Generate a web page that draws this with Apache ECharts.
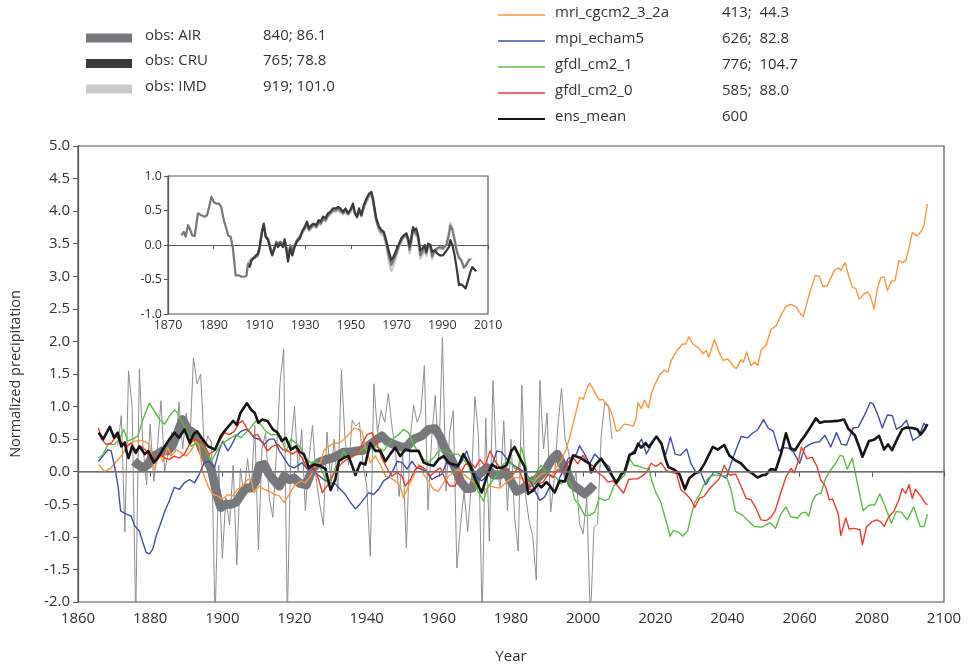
<!DOCTYPE html>
<html>
<head>
<meta charset="utf-8">
<script src="https://cdn.jsdelivr.net/npm/echarts@6/dist/echarts.min.js"></script>
<style>html,body{margin:0;padding:0;background:#fff}#c{width:970px;height:669px}</style>
</head>
<body>
<div id="c"></div>
<script>
// ---- legend texts ----
const obsNames = ['obs: AIR', 'obs: CRU', 'obs: IMD'];
const obsStats = ['840; 86.1', '765; 78.8', '919; 101.0'];
const modelNames = ['mri_cgcm2_3_2a', 'mpi_echam5', 'gfdl_cm2_1', 'gfdl_cm2_0', 'ens_mean'];
const modelStats = ['413;  44.3', '626;  82.8', '776;  104.7', '585;  88.0', '600'];

// ---- main axis ticks ----
const xTicks = [1860, 2100, 20];
const yTicks = [-2, 5, 0.5];
const insetXTicks = [1870, 2010, 20];
const insetYTicks = [-1, 1, 0.5];

// ---- annual observed (thin grey), from 1871 ----
const annualStart = 1871;
const annualValues = [0.4,0.86,-0.92,1.55,1.0,-2.3,1.58,0.4,-0.2,0.73,-0.15,0.35,1.09,0.0,0.3,0.6,0.3,1.07,0.35,0.9,
0.45,1.75,1.35,1.5,0.35,0.55,0.45,-2.3,0.1,-1.33,-0.4,-0.82,0.1,-1.43,0.05,-0.36,0.2,-0.3,0.71,-1.2,
0.35,0.6,-0.4,-0.7,0.3,1.37,1.88,-2.3,0.4,1.0,0.0,0.65,-0.6,0.2,0.71,-0.1,-0.5,-0.82,0.61,-0.1,
0.5,-0.3,1.56,0.5,0.1,0.79,0.7,0.76,0.1,-0.2,-1.3,1.35,0.6,0.94,0.76,1.2,0.7,0.3,-0.38,0.28,
-1.17,0.46,1.02,0.76,0.9,1.63,-0.59,0.5,1.17,0.2,2.06,-0.3,0.61,0.94,-1.48,-0.82,-0.3,-0.92,-0.2,1.15,
0.54,-2.3,0.82,-1.07,1.4,0.1,-0.25,0.78,-0.6,0.5,-0.7,-1.22,1.33,-0.35,-0.75,-0.98,-1.66,1.4,0.35,0.9,
-0.62,-0.1,0.71,1.28,0.5,0.3,-0.3,0.0,-0.8,-0.95,-0.4,-2.3,-0.85,-0.8,0.56,1.07,1.02,0.5];

// ---- obs: AIR smoothed (thick grey, main panel) ----
const airMain = [[1875.5,0.16],[1876.6,0.11],[1878,0.06],[1879.4,0.11],[1880.7,0.24],[1882.1,0.27],[1883.5,0.32],[1884.9,0.32],[1886.3,0.42],[1887.6,0.6],[1889,0.8],[1890.4,0.65],[1891.8,0.6],[1893.2,0.5],[1894.6,0.32],[1896,0.14],[1896.9,0.04],[1897.8,-0.17],[1898.7,-0.4],[1899.6,-0.55],[1901,-0.5],[1902.4,-0.5],[1903.8,-0.47],[1905.2,-0.35],[1906.5,-0.25],[1907.9,-0.25],[1909.3,-0.14],[1910.2,0.09],[1911.6,0.11],[1913,-0.04],[1914.4,-0.14],[1915.8,-0.22],[1917.1,-0.07],[1918.5,-0.12],[1919.9,-0.1],[1921.5,-0.18],[1923.3,-0.2],[1925,0.05],[1927,0.15],[1929,0.19],[1931,0.22],[1933.6,0.3],[1935.5,0.3],[1937.3,0.32],[1939,0.33],[1941,0.42],[1942.5,0.48],[1944.2,0.55],[1945.6,0.47],[1947.5,0.42],[1949.5,0.38],[1951,0.38],[1953,0.5],[1955.3,0.55],[1957.1,0.65],[1959,0.66],[1960.4,0.53],[1961.8,0.34],[1963.2,0.22],[1964.6,0.05],[1966,-0.15],[1967.7,-0.26],[1969.3,-0.25],[1970.5,-0.08],[1971.9,0.0],[1973.3,0.06],[1975.1,-0.05],[1977,-0.05],[1978.5,0.0],[1980,-0.15],[1981.6,-0.3],[1983.5,-0.25],[1985.5,-0.15],[1987,-0.12],[1989.5,0.02],[1991.2,0.18],[1992.8,0.27],[1994.4,0.09],[1995.5,0.0],[1997,-0.2],[1998.6,-0.26],[2000.4,-0.34],[2001.8,-0.27],[2003,-0.2]];

// ---- models ----
const mri = [[1865.7,0.11],[1867.4,0.0],[1869.2,0.06],[1870.6,0.16],[1872,0.24],[1873.4,0.37],[1874.7,0.44],[1875.7,0.47],[1877,0.48],[1878.4,0.47],[1879.8,0.42],[1881.2,0.04],[1882.6,0.27],[1883.5,0.16],[1884.9,0.37],[1885.8,0.24],[1887.2,0.34],[1888.6,0.29],[1890,0.24],[1891.3,0.32],[1892.7,0.47],[1893.6,0.39],[1894.6,-0.01],[1896,-0.22],[1897.3,-0.35],[1898.7,-0.37],[1900.1,-0.42],[1901.5,-0.35],[1902.9,-0.37],[1904.2,-0.27],[1905.6,-0.22],[1907,-0.12],[1907.9,-0.12],[1908.8,-0.32],[1910.2,-0.22],[1911.6,-0.27],[1913,-0.3],[1914.4,-0.35],[1915.8,-0.37],[1917.1,-0.47],[1918.5,-0.35],[1919.9,-0.22],[1921.7,-0.14],[1923,-0.17],[1924.4,-0.07],[1925.8,0.09],[1927.2,0.14],[1928.1,0.32],[1929.5,0.39],[1930.9,0.44],[1932.3,0.44],[1933.6,0.49],[1935,0.57],[1936.4,0.67],[1937.8,0.65],[1938.7,0.62],[1939.6,0.39],[1941,0.14],[1942.4,0.24],[1943.8,0.11],[1945.2,-0.07],[1946.5,-0.09],[1947.9,-0.14],[1949.3,-0.22],[1950.2,-0.4],[1951.6,-0.22],[1953,-0.07],[1954.4,0.11],[1955.8,-0.04],[1957.1,-0.14],[1958.5,-0.27],[1959.9,-0.3],[1961.3,-0.17],[1962.7,-0.07],[1964.1,-0.01],[1965.4,0.04],[1966.8,-0.04],[1968.7,-0.12],[1970.1,-0.17],[1971.4,-0.27],[1972.8,-0.27],[1974.2,-0.22],[1975.6,-0.24],[1977,-0.25],[1978.7,-0.16],[1980.6,-0.09],[1982.4,-0.09],[1984.3,-0.14],[1985.7,-0.21],[1987,-0.11],[1988.4,-0.04],[1989.8,-0.01],[1991.2,-0.06],[1992.6,0.07],[1993.9,0.17],[1995.3,0.35],[1996.3,0.53],[1997.2,0.73],[1998.3,0.98],[1999,1.14],[2000,1.11],[2000.9,1.26],[2001.8,1.36],[2002.7,1.28],[2003.6,1.18],[2004.5,1.1],[2005.5,1.11],[2006.4,1.03],[2007.3,0.98],[2008.2,0.85],[2009.2,0.62],[2010.1,0.64],[2011.3,0.73],[2012.6,0.72],[2013.8,0.7],[2014.6,0.8],[2015.2,1.06],[2016.1,0.97],[2017,1.1],[2018.1,0.98],[2018.9,1.2],[2019.8,1.33],[2021.1,1.48],[2022.5,1.56],[2023.5,1.53],[2024.4,1.71],[2026,1.86],[2027.5,1.96],[2028.4,1.96],[2029.3,2.07],[2030.4,1.96],[2032.2,1.89],[2033.2,1.81],[2034.1,1.86],[2034.8,1.76],[2036.4,2.03],[2037.6,1.84],[2038.7,1.71],[2040.1,1.73],[2041.5,1.63],[2042.4,1.58],[2043.8,1.72],[2044.4,1.68],[2045.3,1.84],[2046.5,1.63],[2047.5,1.68],[2048.4,1.63],[2049.3,1.87],[2050.7,1.94],[2052.1,2.19],[2053.5,2.24],[2054.8,2.4],[2056.2,2.54],[2057.6,2.57],[2059,2.53],[2059.9,2.45],[2061,2.38],[2062.7,2.73],[2064.3,3.01],[2065.4,3.0],[2066.5,2.84],[2067.7,2.86],[2069.6,3.09],[2070.8,3.13],[2071.4,3.09],[2072.6,3.21],[2073.7,2.98],[2074.6,2.83],[2075.6,2.81],[2076.5,2.65],[2077.9,2.73],[2078.8,2.76],[2079.7,2.68],[2080.6,2.5],[2081.6,2.83],[2082.5,2.98],[2083.4,2.99],[2084.3,2.78],[2085.5,2.93],[2086.4,2.93],[2087.5,3.24],[2088.5,3.21],[2089.4,3.24],[2090.3,3.44],[2091.2,3.67],[2092.6,3.62],[2093.8,3.7],[2094.5,3.8],[2095.4,4.11]];

const mpi = [[1865.7,0.16],[1866.9,0.24],[1868.3,0.34],[1869.2,0.32],[1870.1,0.09],[1871.1,-0.22],[1871.8,-0.6],[1873.4,-0.65],[1874.7,-0.68],[1875.7,-0.83],[1877,-0.91],[1878,-1.09],[1878.9,-1.24],[1879.8,-1.26],[1880.7,-1.19],[1881.7,-0.98],[1883,-0.78],[1884.1,-0.6],[1885.3,-0.45],[1886.7,-0.24],[1888.1,-0.27],[1889.5,-0.17],[1890.9,-0.12],[1892.3,-0.17],[1893.6,-0.04],[1895,0.14],[1896.4,0.16],[1897.8,0.06],[1899.2,0.34],[1900.1,0.47],[1901.5,0.32],[1902.4,0.39],[1903.8,0.55],[1905.2,0.62],[1906.5,0.65],[1907.5,0.62],[1908.8,0.52],[1910.2,0.5],[1911.6,0.42],[1913,0.5],[1914.4,0.5],[1915.8,0.32],[1917.1,0.21],[1918.5,0.09],[1919.9,0.06],[1920.8,0.09],[1922.1,0.14],[1923.5,0.04],[1924.9,0.06],[1926.3,-0.04],[1928.1,-0.12],[1930,-0.17],[1931.3,-0.19],[1932.7,-0.27],[1934.1,-0.35],[1935.5,-0.47],[1936.9,-0.57],[1937.8,-0.52],[1939.2,-0.42],[1940.6,-0.32],[1941.9,-0.35],[1943.3,-0.27],[1944.7,-0.14],[1946.1,-0.09],[1947.5,0.04],[1948.4,0.16],[1949.8,0.14],[1951.2,0.04],[1952.5,0.16],[1953.9,0.06],[1955.3,0.04],[1956.7,-0.01],[1958.1,-0.12],[1959.5,-0.07],[1960.8,-0.04],[1962.2,0.14],[1963.6,0.09],[1965,0.06],[1966.4,0.16],[1967.7,0.32],[1969.1,0.09],[1970.5,-0.09],[1971.9,-0.14],[1973.3,-0.07],[1974.7,0.09],[1976.1,0.32],[1977.4,0.3],[1978.8,0.2],[1979.7,0.14],[1981,0.09],[1982.4,0.04],[1983.8,-0.01],[1985.2,-0.11],[1986.6,-0.29],[1988,-0.44],[1989.3,-0.39],[1990.7,-0.24],[1992.1,-0.32],[1993.5,-0.09],[1994.9,0.07],[1995.8,0.2],[1996.7,0.22],[1998.1,0.27],[1999,0.4],[2000.4,0.27],[2001.8,0.12],[2003.2,0.27],[2004.5,0.2],[2005.9,0.14],[2007.3,0.07],[2008.7,-0.15],[2010.1,-0.11],[2011.5,0.02],[2012.6,0.24],[2014.2,0.33],[2015.4,0.43],[2016.2,0.5],[2017.5,0.27],[2018.8,0.4],[2020.2,0.54],[2021.6,0.45],[2022.8,0.25],[2024.2,0.53],[2025.5,0.27],[2026.9,0.25],[2028.7,0.35],[2029.9,0.12],[2031.3,-0.01],[2032.5,0.0],[2034,-0.2],[2035,-0.1],[2036.3,0.0],[2037.7,-0.03],[2039.6,-0.1],[2041,0.13],[2042.3,0.33],[2043.8,0.54],[2045.6,0.52],[2046.9,0.59],[2048.3,0.64],[2050,0.8],[2051.3,0.67],[2052.7,0.62],[2054.3,0.32],[2055.7,0.37],[2057,0.36],[2058.3,0.3],[2060,0.13],[2061.4,0.37],[2062.8,0.42],[2064.2,0.45],[2065.5,0.46],[2067,0.56],[2068.6,0.38],[2070.2,0.6],[2071.6,0.42],[2073,0.41],[2074.8,0.67],[2076.2,0.68],[2077.9,0.86],[2079.5,1.06],[2080.4,1.04],[2081.8,0.85],[2082.9,0.67],[2084.3,0.87],[2085.7,0.86],[2086.8,0.65],[2088.2,0.7],[2089.6,0.79],[2091.4,0.48],[2093,0.54],[2094.4,0.74],[2095.3,0.69]];

const gfdl21 = [[1865.7,0.21],[1866.9,0.26],[1868.3,0.42],[1870.1,0.42],[1871.5,0.5],[1872.7,0.65],[1873.8,0.47],[1875.2,0.5],[1876.6,0.55],[1878,0.8],[1878.9,0.93],[1879.8,1.05],[1881.2,0.93],[1882.6,0.8],[1884,0.73],[1885.3,0.85],[1886.7,0.95],[1887.6,0.9],[1889,0.75],[1890.4,0.6],[1891.3,0.39],[1892.7,0.44],[1894.1,0.42],[1895.5,0.32],[1896.9,0.16],[1898.2,0.29],[1899.6,0.42],[1901,0.47],[1902.4,0.52],[1903.8,0.57],[1905.2,0.52],[1906.5,0.6],[1907.9,0.68],[1909.3,0.78],[1910.7,0.72],[1912.1,0.62],[1913.5,0.57],[1914.8,0.57],[1916.2,0.55],[1917.6,0.3],[1919,0.5],[1920.3,0.44],[1921.7,0.37],[1923,0.21],[1924.4,0.14],[1925.8,0.16],[1927.2,0.06],[1928.6,-0.12],[1930,-0.17],[1931.3,0.06],[1932.7,0.19],[1933.6,0.32],[1935,0.19],[1936.4,0.24],[1937.8,0.29],[1939.2,0.37],[1940.6,0.32],[1941.9,0.39],[1943.3,0.37],[1944.7,0.32],[1946.1,0.42],[1947.5,0.52],[1948.9,0.57],[1950.2,0.65],[1951.6,0.6],[1953,0.42],[1954.4,0.29],[1955.8,0.19],[1957.1,0.14],[1958.5,0.21],[1959.9,0.32],[1961.3,0.32],[1962.7,0.29],[1964.1,0.27],[1965.4,0.27],[1966.8,0.19],[1968.2,0.09],[1969.6,-0.12],[1971,-0.32],[1972.4,-0.45],[1973.7,-0.22],[1975.1,-0.12],[1976.5,-0.02],[1977.9,0.12],[1979.7,0.16],[1981,0.05],[1982,0.04],[1982.9,0.37],[1983.8,0.19],[1984.7,-0.09],[1986.1,-0.16],[1987.5,0.04],[1988.4,0.09],[1989.8,-0.01],[1991.2,-0.06],[1992.6,-0.09],[1993.9,-0.19],[1995.3,-0.11],[1996.7,-0.19],[1997.6,-0.42],[1999,-0.52],[2000.4,-0.67],[2001.8,-0.67],[2003.2,-0.62],[2004.5,-0.4],[2005.9,-0.44],[2007.1,-0.42],[2008.5,-0.22],[2010.1,-0.13],[2011.5,-0.05],[2012.9,0.2],[2014,0.1],[2015.6,0.08],[2017,0.05],[2018.3,0.05],[2018.9,-0.12],[2020.2,-0.33],[2021.4,-0.45],[2023,-0.76],[2024.1,-0.99],[2025,-0.9],[2026.5,-0.93],[2027.6,-0.99],[2029,-0.9],[2029.8,-0.7],[2030.9,-0.47],[2032.2,-0.36],[2033.2,-0.23],[2034.6,-0.1],[2036.2,-0.05],[2037.8,-0.06],[2039.6,-0.06],[2041,-0.28],[2042.2,-0.61],[2044.2,-0.67],[2046,-0.77],[2047.4,-0.84],[2049.5,-0.85],[2051.8,-0.78],[2053.3,-0.87],[2054.8,-0.65],[2056.2,-0.54],[2057.5,-0.69],[2059.4,-0.71],[2060.4,-0.64],[2061.7,-0.62],[2062.5,-0.68],[2063.6,-0.45],[2064.5,-0.36],[2065.9,-0.33],[2067.2,-0.1],[2068.9,0.05],[2070,0.13],[2071.2,0.25],[2072,0.24],[2073.2,0.04],[2074.6,0.21],[2076,-0.18],[2077.6,-0.6],[2079.3,-0.51],[2080.8,-0.51],[2082.2,-0.34],[2083.6,-0.52],[2085.4,-0.79],[2086.8,-0.61],[2088.2,-0.62],[2089.8,-0.74],[2091.6,-0.54],[2093.4,-0.84],[2094.5,-0.84],[2095.4,-0.65]];

const gfdl20 = [[1865.7,0.67],[1866.5,0.5],[1867.8,0.42],[1869.2,0.44],[1870.6,0.55],[1872,0.44],[1873.4,0.39],[1874.7,0.44],[1876.1,0.32],[1877.5,0.39],[1878.9,0.32],[1879.8,0.21],[1881.2,0.19],[1882.6,0.27],[1884,0.21],[1885.3,0.19],[1886.7,0.24],[1888.1,0.21],[1889.5,0.27],[1890.9,0.42],[1892.3,0.5],[1893.6,0.47],[1895,0.39],[1896.4,0.27],[1897.8,0.32],[1899.2,0.47],[1900.6,0.6],[1901.9,0.57],[1903.3,0.62],[1904.7,0.75],[1905.6,0.78],[1907,0.65],[1908.4,0.55],[1909.8,0.57],[1911.2,0.44],[1912.5,0.32],[1913.9,0.39],[1915.3,0.42],[1916.7,0.34],[1918.1,0.32],[1919.4,0.27],[1920.7,0.32],[1922.1,0.21],[1923.5,0.06],[1925.4,0.06],[1926.7,-0.12],[1927.7,-0.32],[1929,-0.22],[1930.4,-0.07],[1931.8,0.04],[1933.2,0.14],[1934.6,0.19],[1935.9,0.24],[1937.3,0.27],[1938.7,0.42],[1940.1,0.57],[1941.5,0.6],[1942.9,0.42],[1944.2,0.21],[1945.6,0.06],[1947,-0.07],[1948.4,-0.01],[1949.8,-0.07],[1950.7,-0.22],[1952.1,-0.12],[1953.5,0.04],[1954.8,0.09],[1956.2,0.04],[1957.6,-0.07],[1959,0.01],[1960.4,0.06],[1961.8,-0.12],[1963.1,-0.22],[1964.5,-0.22],[1965.9,-0.04],[1967.3,0.11],[1968.7,0.14],[1970.1,0.06],[1971.4,0.19],[1972.8,0.09],[1974.2,0.32],[1975.6,0.16],[1977,0.06],[1978.5,0.02],[1980.6,-0.04],[1982,0.07],[1983.4,-0.14],[1984.7,-0.27],[1986.1,-0.27],[1987.5,-0.19],[1988.9,-0.16],[1990.3,-0.04],[1991.6,-0.09],[1993,0.04],[1994.4,-0.01],[1995.8,0.14],[1997.2,0.22],[1998.5,0.12],[1999.9,0.25],[2001.3,0.14],[2002.7,0.09],[2004.1,-0.02],[2005.5,-0.07],[2006.9,-0.16],[2008.2,-0.14],[2009.6,-0.22],[2011.2,-0.33],[2012.6,-0.12],[2013.8,-0.11],[2015.1,-0.11],[2016.5,-0.06],[2017.7,0.0],[2018.8,0.13],[2020.2,0.08],[2021.6,0.14],[2023,0.02],[2024.4,-0.01],[2025.9,-0.03],[2027.1,-0.28],[2028.5,-0.34],[2029.9,-0.43],[2030.9,-0.55],[2032.2,-0.41],[2033.5,-0.38],[2034.9,-0.27],[2036.3,-0.19],[2037.7,-0.11],[2039.1,0.1],[2040.5,-0.05],[2042.3,-0.04],[2043.8,-0.23],[2045.2,-0.41],[2046.5,-0.43],[2047.9,-0.56],[2049.3,-0.74],[2050.7,-0.75],[2052,-0.7],[2053.2,-0.6],[2054.8,-0.32],[2056.2,-0.08],[2057.6,0.05],[2058.5,-0.02],[2059.8,0.2],[2060.5,0.38],[2062,0.2],[2063.5,0.22],[2064.8,0.08],[2065.9,-0.13],[2067.2,-0.23],[2068.2,-0.43],[2069.1,-0.42],[2070.7,-0.65],[2071.4,-0.98],[2072.8,-0.71],[2073.7,-0.88],[2075.1,-0.87],[2076.7,-0.89],[2077.4,-1.12],[2078.5,-0.85],[2080,-0.77],[2081.3,-0.74],[2082.5,-0.77],[2083.4,-0.84],[2084.7,-0.69],[2086.1,-0.61],[2087.5,-0.43],[2088.4,-0.26],[2089.4,-0.33],[2090.3,-0.2],[2091.2,-0.41],[2092.1,-0.27],[2093.5,-0.37],[2094.5,-0.46],[2095.4,-0.51]];

const ensMean = [[1865.7,0.6],[1867,0.5],[1868.8,0.69],[1870,0.52],[1871,0.6],[1872,0.39],[1873,0.45],[1873.4,0.32],[1874,0.21],[1875,0.39],[1876,0.29],[1877,0.39],[1878.5,0.27],[1879.5,0.32],[1881,0.14],[1882,0.2],[1883.5,0.34],[1885,0.47],[1886.7,0.6],[1888,0.52],[1889.5,0.65],[1891,0.44],[1892,0.57],[1893,0.62],[1894.5,0.5],[1896,0.39],[1898,0.34],[1899.6,0.55],[1901,0.65],[1903,0.78],[1904,0.72],[1905,0.9],[1906.8,1.05],[1908,0.95],[1909,0.9],[1910,0.75],[1911,0.8],[1912.5,0.78],[1914,0.65],[1915.3,0.6],[1916.5,0.47],[1917.6,0.52],[1919,0.34],[1920.4,0.39],[1921.5,0.3],[1922.6,0.27],[1924,0.06],[1925.4,0.11],[1927.2,0.09],[1928.6,0.04],[1930,-0.28],[1931.3,-0.12],[1932.3,0.16],[1933.6,0.21],[1935,0.24],[1936.9,-0.05],[1938.3,0.14],[1939.6,0.11],[1941,0.44],[1942.4,0.32],[1943.8,0.32],[1945.2,0.16],[1946.5,0.27],[1947.9,0.37],[1949.3,0.24],[1950.7,0.34],[1952.1,0.32],[1954.4,0.32],[1955.8,0.14],[1957.1,0.11],[1958.5,0.09],[1959.9,0.19],[1961.3,0.24],[1962.7,0.14],[1964.1,0.11],[1965.4,0.09],[1966.8,0.27],[1968.7,0.09],[1970.1,-0.12],[1971.9,-0.32],[1973.3,-0.07],[1974.7,0.11],[1976.1,0.06],[1977.4,0.06],[1978.8,0.1],[1980.1,0.32],[1981,0.38],[1982.4,0.22],[1983.8,0.07],[1984.7,-0.34],[1986.1,-0.29],[1987.5,-0.19],[1988.4,-0.24],[1989.8,-0.16],[1990.7,-0.21],[1992.1,-0.32],[1993.5,-0.14],[1994.9,-0.15],[1996.3,0.09],[1997.2,0.25],[1999,0.22],[2000.4,0.17],[2001.8,0.12],[2002.2,-0.01],[2003.6,0.12],[2005,0.2],[2006.4,0.08],[2008,-0.06],[2009.2,-0.17],[2010.5,-0.04],[2011.5,0.0],[2012.9,0.26],[2014.3,0.29],[2015.2,0.43],[2016.1,0.37],[2017.3,0.44],[2018.2,0.38],[2020.3,0.54],[2021.7,0.43],[2022.8,0.2],[2023.6,0.07],[2025.3,0.03],[2026.7,-0.04],[2028.2,-0.27],[2029.4,-0.1],[2030.9,-0.03],[2032.2,0.0],[2033.6,0.12],[2035.9,0.38],[2037.3,0.34],[2039.1,0.41],[2040.5,0.25],[2042.3,0.17],[2043.7,0.13],[2045.2,0.04],[2046,0.0],[2047,-0.03],[2048.3,-0.09],[2049.8,-0.05],[2050.6,-0.05],[2052,0.04],[2053.4,0.03],[2054.8,0.27],[2056.2,0.59],[2057.5,0.36],[2058.7,0.33],[2060.3,0.47],[2061.3,0.54],[2062.7,0.66],[2064.5,0.82],[2065.6,0.75],[2067,0.77],[2068.2,0.77],[2070.5,0.78],[2072.3,0.8],[2073.5,0.66],[2075.3,0.56],[2076.5,0.38],[2077.4,0.23],[2079.2,0.47],[2080.6,0.49],[2082,0.55],[2083.4,0.34],[2084.5,0.42],[2085.6,0.33],[2087.1,0.51],[2088.4,0.65],[2089.6,0.68],[2091.2,0.67],[2092.6,0.65],[2093.5,0.57],[2094.5,0.64],[2095.4,0.73]];

// ---- inset: observations ----
const insetAIR = [[1875.8,0.14],[1876.9,0.19],[1877.7,0.12],[1878.8,0.29],[1879.5,0.24],[1880.6,0.14],[1881.7,0.13],[1883.1,0.46],[1884.6,0.43],[1886,0.41],[1887.1,0.43],[1888.2,0.58],[1889,0.7],[1890.1,0.62],[1891.1,0.6],[1892.3,0.6],[1893.3,0.55],[1894.4,0.36],[1895.5,0.24],[1896.3,0.14],[1897.4,0.12],[1898.4,-0.05],[1899.6,-0.44],[1900.2,-0.46],[1901.1,-0.44],[1902.1,-0.46],[1903.1,-0.46],[1904.3,-0.45],[1905,-0.27],[1905.7,-0.32],[1906.5,-0.22],[1907.9,-0.19],[1909.4,-0.15],[1910.1,-0.05],[1911.1,0.19],[1911.9,0.29],[1912.7,0.14],[1913.8,0.09],[1914.8,-0.03],[1915.6,-0.12],[1916.7,-0.03],[1917.4,0.05],[1918.1,0.02],[1919.1,0.05],[1920.3,0.0],[1921,0.09],[1921.8,-0.03],[1922.5,-0.17],[1923.5,0.0],[1924.4,-0.07],[1925.4,0.0],[1926.4,0.07],[1927.6,0.12],[1928.8,0.19],[1929.8,0.24],[1930.8,0.31],[1931.7,0.22],[1932.7,0.26],[1933.7,0.29],[1934.9,0.26],[1935.9,0.33],[1936.8,0.31],[1937.8,0.38],[1939,0.36],[1940,0.43],[1941,0.46],[1942.2,0.5],[1943.4,0.5],[1944.4,0.53],[1945.4,0.5],[1946.6,0.46],[1947.7,0.5],[1948.8,0.45],[1949.8,0.5],[1950.9,0.58],[1951.7,0.46],[1952.7,0.41],[1953.6,0.5],[1954.6,0.43],[1955.6,0.55],[1956.8,0.65],[1957.9,0.72],[1959,0.74],[1959.7,0.65],[1960.4,0.5],[1961.1,0.36],[1962.3,0.24],[1963.3,0.19],[1964.4,0.17],[1965.2,0.07],[1965.8,0.09],[1966.7,-0.17],[1967.7,-0.29],[1968.7,-0.22],[1969.9,-0.12],[1971.1,0.0],[1972.1,0.07],[1973.1,0.12],[1974.3,0.14],[1975,0.07],[1975.7,-0.07],[1976.5,0.07],[1977.2,0.24],[1977.9,0.19],[1978.6,0.21],[1979.4,0.12],[1980.4,-0.15],[1981.3,-0.1],[1982.3,-0.03],[1983,-0.12],[1983.8,0.0],[1984.8,-0.03],[1985.6,-0.17],[1986.7,-0.07],[1987.7,-0.05],[1988.9,-0.03],[1990.3,-0.05],[1991.8,0.0],[1992.9,0.14],[1993.5,0.28],[1994.4,0.22],[1995.4,0.07],[1996.4,-0.1],[1997.3,-0.19],[1998.3,-0.22],[1999.4,-0.33],[2000.5,-0.29],[2001.7,-0.22],[2002.4,-0.21]];

const insetCRU = [[1905.7,-0.32],[1906.5,-0.22],[1907.9,-0.17],[1909.4,-0.12],[1910.1,-0.02],[1911.1,0.19],[1911.9,0.31],[1912.7,0.12],[1913.8,0.07],[1914.8,-0.07],[1915.6,-0.15],[1916.7,-0.03],[1917.4,0.02],[1918.1,-0.03],[1919.1,0.02],[1920.3,-0.03],[1921,0.07],[1922,-0.12],[1922.5,-0.24],[1923.5,-0.05],[1924.4,-0.15],[1925.4,-0.03],[1926.4,0.05],[1927.6,0.09],[1928.8,0.21],[1929.8,0.26],[1930.8,0.34],[1931.7,0.24],[1932.7,0.29],[1933.7,0.31],[1934.9,0.29],[1935.9,0.36],[1936.8,0.34],[1937.8,0.41],[1939,0.39],[1940,0.46],[1941,0.48],[1942.2,0.53],[1943.4,0.53],[1944.4,0.55],[1945.4,0.53],[1946.6,0.48],[1947.7,0.53],[1948.8,0.46],[1949.8,0.51],[1950.9,0.6],[1951.7,0.48],[1952.7,0.41],[1953.6,0.53],[1954.6,0.43],[1955.6,0.57],[1956.8,0.67],[1957.9,0.74],[1959,0.77],[1959.7,0.67],[1960.4,0.53],[1961.1,0.39],[1962.3,0.27],[1963.3,0.22],[1964.4,0.19],[1965.2,0.1],[1965.8,0.12],[1966.7,-0.1],[1967.7,-0.22],[1968.7,-0.17],[1969.9,-0.07],[1971.1,0.02],[1972.1,0.1],[1973.1,0.14],[1974.3,0.17],[1975,0.1],[1975.7,-0.02],[1976.5,0.12],[1977.2,0.26],[1977.9,0.21],[1978.6,0.24],[1979.4,0.14],[1980.4,-0.08],[1981.3,-0.05],[1982.3,0.0],[1983,-0.1],[1983.8,0.02],[1984.8,0.0],[1985.6,-0.1],[1986.7,-0.08],[1987.7,-0.12],[1988.9,-0.15],[1990.3,-0.15],[1991.8,-0.08],[1992.9,-0.03],[1993.5,0.07],[1994.4,0.0],[1995.4,-0.15],[1996.4,-0.36],[1997.3,-0.58],[1998.3,-0.57],[1999.4,-0.6],[2000.2,-0.63],[2001.3,-0.51],[2002.3,-0.39],[2003.1,-0.32],[2004.2,-0.36],[2004.9,-0.38]];

const insetIMD = [[1905,-0.25],[1906.5,-0.2],[1907.9,-0.18],[1909.4,-0.13],[1910.1,-0.04],[1911.1,0.17],[1911.9,0.26],[1912.7,0.12],[1913.8,0.06],[1914.8,-0.05],[1915.6,-0.13],[1916.7,-0.05],[1917.4,0.03],[1918.1,0.0],[1919.1,0.03],[1920.3,-0.02],[1921,0.06],[1921.8,-0.06],[1922.5,-0.2],[1923.5,-0.03],[1924.4,-0.1],[1925.4,-0.02],[1926.4,0.05],[1927.6,0.1],[1928.8,0.17],[1929.8,0.22],[1930.8,0.28],[1931.7,0.2],[1932.7,0.24],[1933.7,0.27],[1934.9,0.25],[1935.9,0.31],[1936.8,0.29],[1937.8,0.36],[1939,0.34],[1940,0.41],[1941,0.44],[1942.2,0.48],[1943.4,0.48],[1944.4,0.5],[1945.4,0.47],[1946.6,0.44],[1947.7,0.47],[1948.8,0.43],[1949.8,0.47],[1950.9,0.55],[1951.7,0.44],[1952.7,0.39],[1953.6,0.47],[1954.6,0.41],[1955.6,0.52],[1956.8,0.62],[1957.9,0.69],[1959,0.71],[1959.7,0.62],[1960.4,0.47],[1961.1,0.33],[1962.3,0.2],[1963.3,0.15],[1964.4,0.12],[1965.2,0.02],[1965.8,0.03],[1966.7,-0.25],[1967.7,-0.38],[1968.7,-0.3],[1969.9,-0.17],[1971.1,-0.04],[1972.1,0.04],[1973.1,0.1],[1974.3,0.12],[1975,0.04],[1975.7,-0.12],[1976.5,0.04],[1977.2,0.2],[1977.9,0.16],[1978.6,0.18],[1979.4,0.08],[1980.4,-0.2],[1981.3,-0.15],[1982.3,-0.08],[1983,-0.16],[1983.8,-0.04],[1984.8,-0.06],[1985.6,-0.2],[1986.7,-0.1],[1987.7,-0.08],[1988.9,-0.05],[1990.3,-0.06],[1991.8,0.02],[1992.9,0.2],[1993.5,0.32],[1994.4,0.26],[1995.4,0.1],[1996.4,-0.08],[1997.3,-0.17],[1998.3,-0.22],[1999.4,-0.32],[2000.5,-0.27],[2001.7,-0.2],[2002.4,-0.18],[2003.1,-0.2]];

// ---- styling ----
const FONT = '"Open Sans", "DejaVu Sans", sans-serif';
const TXT = '#333';
const AX = '#555';
const obsColors = ['#77787b', '#3a3a3c', '#c9cacc'];
const modelColors = ['#f7983f', '#3f4fa5', '#5bbd45', '#ee3a2c', '#151515'];

const annual = annualValues.map((v, i) => [annualStart + i, v]);

const chart = echarts.init(document.getElementById('c'), null, {renderer: 'canvas'});

function lineSeries(name, data, color, width, xi, extra) {
  return Object.assign({
    name, type: 'line', data, xAxisIndex: xi, yAxisIndex: xi,
    showSymbol: false, symbol: 'none', clip: true, animation: false, silent: true,
    lineStyle: {color, width, join: 'round'}, itemStyle: {color}
  }, extra || {});
}

// legend graphics
const graphics = [];
obsNames.forEach((n, i) => {
  const y = 38 + i * 25.5;
  graphics.push({type: 'polygon', silent: true,
    shape: {points: [[86, y - 4.5], [132, y - 4.5], [132, y + 4.5], [86, y + 4.5]]},
    style: {fill: obsColors[i], stroke: null, lineWidth: 0}});
  graphics.push({type: 'text', left: 145, top: y - 10, style: {text: n, font: '15px ' + FONT, fill: TXT}});
  graphics.push({type: 'text', left: 263, top: y - 10, style: {text: obsStats[i], font: '15px ' + FONT, fill: TXT}});
});
modelNames.forEach((n, i) => {
  const y = 15 + i * 26;
  graphics.push({type: 'line', shape: {x1: 498, y1: y, x2: 545, y2: y}, style: {stroke: modelColors[i], lineWidth: i === 4 ? 2 : 1.6}});
  graphics.push({type: 'text', left: 555, top: y - 10, style: {text: n, font: '15px ' + FONT, fill: TXT}});
  graphics.push({type: 'text', left: 722, top: y - 10, style: {text: modelStats[i], font: '15px ' + FONT, fill: TXT}});
});

const yearFmt = v => String(v);

const option = {
  backgroundColor: '#fff',
  animation: false,
  textStyle: {fontFamily: FONT},
  grid: [
    {left: 77, right: 26, top: 146, bottom: 66, show: true, borderColor: AX, borderWidth: 1.2, backgroundColor: 'transparent'},
    {left: 168, top: 176, width: 320, height: 138, show: true, borderColor: AX, borderWidth: 1.2, backgroundColor: '#fff', z: 5}
  ],
  xAxis: [
    {type: 'value', gridIndex: 0, min: xTicks[0], max: xTicks[1], interval: xTicks[2],
     name: 'Year', nameLocation: 'middle', nameGap: 47, nameTextStyle: {fontSize: 15, color: TXT, fontFamily: FONT},
     axisLine: {show: true, lineStyle: {color: AX, width: 1.2}}, axisTick: {show: true, length: 5, lineStyle: {color: AX}},
     axisLabel: {fontSize: 15, color: TXT, margin: 9, fontFamily: FONT, formatter: yearFmt}, splitLine: {show: false}},
    {type: 'value', gridIndex: 1, min: insetXTicks[0], max: insetXTicks[1], interval: insetXTicks[2],
     axisLine: {show: true, lineStyle: {color: AX, width: 1.2}}, axisTick: {show: true, length: 4, lineStyle: {color: AX}},
     axisLabel: {fontSize: 12.5, color: TXT, margin: 5, fontFamily: FONT, formatter: yearFmt}, splitLine: {show: false}, z: 6}
  ],
  yAxis: [
    {type: 'value', gridIndex: 0, min: yTicks[0], max: yTicks[1], interval: yTicks[2],
     name: 'Normalized precipitation', nameLocation: 'middle', nameGap: 55, nameRotate: 90,
     nameTextStyle: {fontSize: 14.5, color: TXT, fontFamily: FONT},
     axisLine: {show: true, lineStyle: {color: AX, width: 1.2}}, axisTick: {show: true, length: 5, lineStyle: {color: AX}},
     axisLabel: {fontSize: 15, color: TXT, margin: 8, fontFamily: FONT, formatter: v => v.toFixed(1)}, splitLine: {show: false}},
    {type: 'value', gridIndex: 1, min: insetYTicks[0], max: insetYTicks[1], interval: insetYTicks[2],
     axisLine: {show: true, lineStyle: {color: AX, width: 1.2}}, axisTick: {show: true, length: 4, lineStyle: {color: AX}},
     axisLabel: {fontSize: 12.5, color: TXT, margin: 6, fontFamily: FONT, formatter: v => v.toFixed(1)}, splitLine: {show: false}, z: 6}
  ],
  graphic: graphics,
  series: [
    lineSeries('annual', annual, '#8e8e8e', 1, 0, {z: 1,
      markLine: {silent: true, symbol: 'none', animation: false, label: {show: false},
        lineStyle: {color: '#7a7a7a', width: 1.6, type: 'solid'}, data: [{yAxis: 0}]}}),
    lineSeries(obsNames[0], airMain, obsColors[0], 9, 0, {z: 2}),
    lineSeries(modelNames[0], mri, modelColors[0], 1.4, 0, {z: 3}),
    lineSeries(modelNames[1], mpi, modelColors[1], 1.4, 0, {z: 3}),
    lineSeries(modelNames[2], gfdl21, modelColors[2], 1.4, 0, {z: 3}),
    lineSeries(modelNames[3], gfdl20, modelColors[3], 1.4, 0, {z: 3}),
    lineSeries(modelNames[4], ensMean, modelColors[4], 2.6, 0, {z: 4}),
    lineSeries(obsNames[2], insetIMD, obsColors[2], 2.2, 1, {z: 7}),
    lineSeries(obsNames[0] + ' (inset)', insetAIR, obsColors[0], 2.2, 1, {z: 8}),
    lineSeries(obsNames[1], insetCRU, obsColors[1], 2.2, 1, {z: 9})
  ]
};
chart.setOption(option);
</script>
</body>
</html>
